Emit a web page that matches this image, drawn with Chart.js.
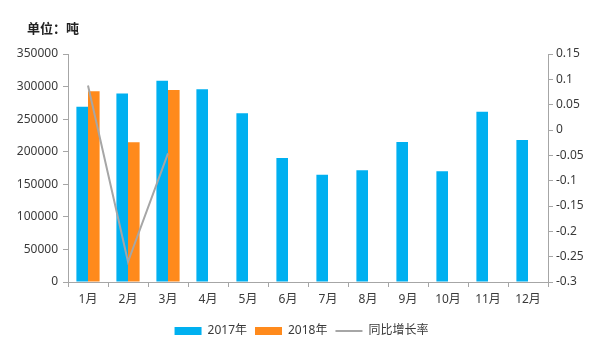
<!DOCTYPE html>
<html>
<head>
<meta charset="utf-8">
<script src="https://cdn.jsdelivr.net/npm/chart.js@4"></script>
<style>
  html, body { margin: 0; padding: 0; background: #fff; }
  #wrap { width: 603px; height: 351px; }
</style>
</head>
<body>
<div id="wrap"><canvas id="myChart" width="603" height="351"></canvas></div>
<script>
// Data-----
const months = ['1月', '2月', '3月', '4月', '5月', '6月', '7月', '8月', '9月', '10月', '11月', '12月'];
const sales2017 = [269000, 289500, 309000, 295800, 259000, 190400, 164800, 171500, 215000, 170000, 261500, 218000];
const sales2018 = [292700, 214400, 294700, null, null, null, null, null, null, null, null, null];
const yoyGrowth = [0.088, -0.26, -0.046, null, null, null, null, null, null, null, null, null];
const unitText = '单位：吨';
// Data-----

const FONT = '"Noto Sans", "Noto Sans CJK SC", sans-serif';
const axisGray = '#a6a6a6';
const textGray = '#3a3a3a';

// title drawn top-left, like the original
const unitLabel = {
    id: 'unitLabel',
    afterDraw(chart) {
        const ctx = chart.ctx;
        ctx.save();
        ctx.font = 'bold 13px "Noto Sans CJK SC", sans-serif';
        ctx.fillStyle = '#222';
        ctx.textBaseline = 'middle';
        ctx.fillText(unitText, 27, 28);
        ctx.restore();
    }
};

// Config-----
const config = {
    type: 'bar',
    data: {
        labels: months,
        datasets: [{
            label: '2017年',
            data: sales2017,
            backgroundColor: '#00b0f0',
            borderWidth: 0,
            pointStyle: 'rect',
            order: 1
        }, {
            label: '2018年',
            data: sales2018,
            backgroundColor: '#ff8a1c',
            borderWidth: 0,
            pointStyle: 'rect',
            order: 1
        }, {
            type: 'line',
            label: '同比增长率',
            data: yoyGrowth,
            yAxisID: 'y1',
            borderColor: '#a6a6a6',
            backgroundColor: '#a6a6a6',
            borderWidth: 2,
            pointRadius: 0,
            pointStyle: 'line',
            tension: 0,
            order: 0
        }]
    },
    options: {
        responsive: false,
        animation: false,
        layout: {
            padding: {top: 54, left: 0, right: 0, bottom: 4}
        },
        datasets: {
            bar: {
                categoryPercentage: 0.58,
                barPercentage: 1
            }
        },
        plugins: {
            legend: {
                position: 'bottom',
                labels: {
                    usePointStyle: true,
                    pointStyleWidth: 27,
                    boxHeight: 8,
                    padding: 8,
                    color: textGray,
                    font: {family: FONT, size: 12},
                    sort: (a, b) => a.datasetIndex - b.datasetIndex
                }
            },
            tooltip: {enabled: false}
        },
        scales: {
            x: {
                grid: {
                    drawOnChartArea: false,
                    tickLength: 5,
                    color: axisGray
                },
                border: {color: axisGray},
                ticks: {
                    color: textGray,
                    padding: 5,
                    font: {family: FONT, size: 12}
                },
                afterFit(scale) { scale.height = 35; }
            },
            y: {
                position: 'left',
                min: 0,
                max: 350000,
                ticks: {
                    stepSize: 50000,
                    color: textGray,
                    padding: 5,
                    font: {family: FONT, size: 12},
                    callback: (v) => String(v)
                },
                grid: {
                    drawOnChartArea: false,
                    tickLength: 5,
                    color: axisGray
                },
                border: {color: axisGray},
                afterFit(scale) { scale.width = 68; }
            },
            y1: {
                position: 'right',
                min: -0.3,
                max: 0.15,
                ticks: {
                    stepSize: 0.05,
                    color: textGray,
                    padding: 3,
                    font: {family: FONT, size: 12},
                    callback: (v) => String(Number(v.toFixed(2)))
                },
                grid: {
                    drawOnChartArea: false,
                    tickLength: 5,
                    color: axisGray
                },
                border: {color: axisGray},
                afterFit(scale) { scale.width = 55; }
            }
        }
    },
    plugins: [unitLabel]
};
// Config-----

var myChart = new Chart(
    document.getElementById('myChart'),
    config
);
</script>
</body>
</html>
